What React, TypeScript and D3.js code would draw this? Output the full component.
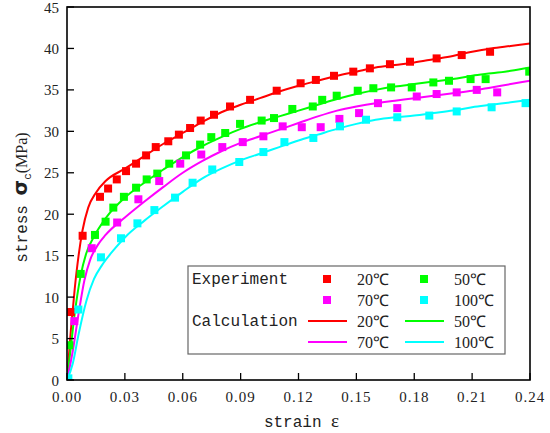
import * as d3 from 'd3'

// experimental points [strain, stress MPa]
const EXP_20: [number, number][] = [
  [0.002, 8.2], [0.0081, 17.4], [0.0171, 22.1], [0.0213, 23.1], [0.0258, 24.2], [0.0306, 25.2],
  [0.0358, 26.1], [0.041, 27.1], [0.046, 28.1], [0.0525, 28.8], [0.058, 29.6], [0.0638, 30.4],
  [0.0693, 31.3], [0.0762, 32.0], [0.0845, 33.0], [0.0949, 33.8], [0.1087, 34.9], [0.1211, 35.8],
  [0.129, 36.2], [0.1384, 36.7], [0.1484, 37.2], [0.157, 37.6], [0.1674, 38.1], [0.1778, 38.4],
  [0.1916, 38.8], [0.2046, 39.2], [0.2193, 39.6],
]
const EXP_50: [number, number][] = [
  [0.0012, 4.2], [0.0071, 12.8], [0.0145, 17.5], [0.02, 19.1], [0.024, 20.8], [0.0295, 22.1],
  [0.0358, 23.2], [0.0413, 24.2], [0.0468, 24.9], [0.053, 26.1], [0.0617, 27.1], [0.069, 28.4],
  [0.0748, 29.3], [0.082, 29.8], [0.0897, 30.9], [0.1009, 31.3], [0.1073, 31.6], [0.1168, 32.7],
  [0.1274, 33.0], [0.1323, 33.8], [0.1398, 34.3], [0.1507, 34.9], [0.1588, 35.2], [0.168, 35.3],
  [0.1787, 35.3], [0.1899, 35.9], [0.198, 36.1], [0.2092, 36.3], [0.217, 36.3], [0.2396, 37.2],
]
const EXP_70: [number, number][] = [
  [0.0038, 7.1], [0.0128, 15.9], [0.026, 19.0], [0.037, 21.8], [0.0478, 24.0], [0.0587, 26.1],
  [0.0696, 27.2], [0.0805, 28.1], [0.0911, 28.7], [0.1018, 29.4], [0.1118, 30.6], [0.1217, 30.5],
  [0.1315, 30.5], [0.1412, 31.5], [0.1514, 32.2], [0.1612, 33.4], [0.1712, 32.8], [0.1813, 34.2],
  [0.1916, 34.5], [0.202, 34.7], [0.2124, 35.0], [0.223, 34.7],
]
const EXP_100: [number, number][] = [
  [0.0007, 0.2], [0.0059, 8.5], [0.0176, 14.8], [0.028, 17.1], [0.0365, 18.9], [0.0453, 20.5],
  [0.056, 22.0], [0.0651, 23.8], [0.0753, 25.4], [0.0893, 26.3], [0.1018, 27.5], [0.1127, 28.7],
  [0.1277, 29.2], [0.1415, 30.6], [0.155, 31.4], [0.1712, 31.7], [0.1878, 31.9], [0.202, 32.4],
  [0.2201, 32.9], [0.2377, 33.4],
]

// calculated curves [strain, stress MPa]
const CALC_20: [number, number][] = [
  [0, 0], [0.002, 6], [0.004, 11], [0.006, 15], [0.008, 18], [0.011, 20.8], [0.015, 22.6],
  [0.02, 24.0], [0.03, 25.5], [0.04, 27.0], [0.05, 28.5], [0.06, 29.8], [0.07, 31.1], [0.08, 32.3],
  [0.09, 33.2], [0.1, 34.0], [0.11, 34.8], [0.12, 35.5], [0.13, 36.1], [0.14, 36.7], [0.15, 37.2],
  [0.16, 37.7], [0.17, 38.0], [0.18, 38.3], [0.19, 38.7], [0.2, 39.1], [0.21, 39.6], [0.22, 40.0],
  [0.23, 40.3], [0.24, 40.6],
]
const CALC_50: [number, number][] = [
  [0, 0], [0.002, 4], [0.004, 8], [0.007, 12.5], [0.01, 15.3], [0.014, 17.3], [0.02, 19.5],
  [0.03, 22.0], [0.04, 23.8], [0.05, 25.4], [0.06, 26.9], [0.07, 28.2], [0.08, 29.3], [0.09, 30.3],
  [0.1, 31.1], [0.11, 31.8], [0.12, 32.5], [0.13, 33.2], [0.14, 33.9], [0.15, 34.5], [0.16, 35.0],
  [0.17, 35.4], [0.18, 35.7], [0.19, 36.0], [0.2, 36.3], [0.21, 36.7], [0.22, 37.0], [0.23, 37.3],
  [0.24, 37.7],
]
const CALC_70: [number, number][] = [
  [0, 0], [0.003, 3.5], [0.006, 8], [0.009, 12], [0.012, 14.5], [0.016, 16.3], [0.02, 17.5],
  [0.03, 19.6], [0.04, 21.5], [0.05, 23.3], [0.06, 25.0], [0.07, 26.4], [0.08, 27.6], [0.09, 28.6],
  [0.1, 29.4], [0.11, 30.2], [0.12, 31.0], [0.13, 31.8], [0.14, 32.5], [0.15, 33.0], [0.16, 33.4],
  [0.17, 33.7], [0.18, 34.0], [0.19, 34.3], [0.2, 34.6], [0.21, 34.9], [0.22, 35.3], [0.23, 35.7],
  [0.24, 36.1],
]
const CALC_100: [number, number][] = [
  [0, 0], [0.003, 2], [0.006, 5.5], [0.01, 9.5], [0.014, 12.2], [0.018, 13.8], [0.025, 15.9],
  [0.03, 17.2], [0.04, 19.2], [0.05, 21.0], [0.06, 22.7], [0.07, 24.3], [0.08, 25.5], [0.09, 26.5],
  [0.1, 27.3], [0.11, 28.1], [0.12, 28.9], [0.13, 29.6], [0.14, 30.3], [0.15, 30.9], [0.16, 31.4],
  [0.17, 31.7], [0.18, 31.9], [0.19, 32.2], [0.2, 32.5], [0.21, 32.9], [0.22, 33.2], [0.23, 33.5],
  [0.24, 33.8],
]

const TEMPS = ['20℃', '50℃', '70℃', '100℃']
const COLORS = ['#ff0000', '#00ff00', '#ff00ff', '#00ffff']
const EXP = [EXP_20, EXP_50, EXP_70, EXP_100]
const CALC = [CALC_20, CALC_50, CALC_70, CALC_100]

const X_TICKS = [0, 0.03, 0.06, 0.09, 0.12, 0.15, 0.18, 0.21, 0.24]
const Y_TICKS = [0, 5, 10, 15, 20, 25, 30, 35, 40, 45]

const W = 550
const H = 433
const M = { left: 67, right: 20, top: 7, bottom: 53 }

const MONO = '"Liberation Mono", monospace'
const SERIF = '"Liberation Serif", serif'

export default function App() {
  const x = d3.scaleLinear().domain([0, 0.24]).range([M.left, W - M.right])
  const y = d3.scaleLinear().domain([0, 45]).range([H - M.bottom, M.top])
  const line = d3.line<[number, number]>()
    .x(d => x(d[0])).y(d => y(d[1]))
    .curve(d3.curveMonotoneX)

  const x0 = x.range()[0], x1 = x.range()[1]
  const yb = y.range()[0], yt = y.range()[1]
  const sq = 8

  // legend layout
  const lg = { x: 188, y: 266, w: 317, h: 88 }
  const rows = [279, 300, 321, 342]
  const cols = [{ mark: 327, text: 357 }, { mark: 424, text: 454 }]

  return (
    <div style={{ position: 'absolute', left: 0, top: 0 }}>
      <svg width={W} height={H} style={{ display: 'block', background: '#fff' }}>
        <defs>
          <clipPath id="plot">
            <rect x={x0} y={yt} width={x1 - x0} height={yb - yt} />
          </clipPath>
        </defs>

        {/* curves */}
        <g clipPath="url(#plot)">
          {CALC.map((c, i) => (
            <path key={i} d={line(c) ?? ''} fill="none" stroke={COLORS[i]} strokeWidth={2} />
          ))}
          {EXP.map((s, i) => (
            <g key={i} fill={COLORS[i]}>
              {s.map((d, j) => (
                <rect key={j} x={x(d[0]) - sq / 2} y={y(d[1]) - sq / 2} width={sq} height={sq} />
              ))}
            </g>
          ))}
        </g>

        {/* frame */}
        <rect x={x0} y={yt} width={x1 - x0} height={yb - yt} fill="none" stroke="#000" strokeWidth={1.6} />

        {/* x axis */}
        {X_TICKS.map(t => (
          <g key={t}>
            <line x1={x(t)} x2={x(t)} y1={yb} y2={yb - 7} stroke="#000" strokeWidth={1.3} />
            <text x={x(t)} y={yb + 22} textAnchor="middle" fontFamily={SERIF} fontSize={15} fill="#222"
              letterSpacing={1}>
              {t.toFixed(2)}
            </text>
          </g>
        ))}
        {/* y axis */}
        {Y_TICKS.map(t => (
          <g key={t}>
            <line x1={x0} x2={x0 + 7} y1={y(t)} y2={y(t)} stroke="#000" strokeWidth={1.3} />
            <text x={x0 - 8} y={y(t) + 5.5} textAnchor="end" fontFamily={SERIF} fontSize={15} fill="#222">
              {t}
            </text>
          </g>
        ))}

        {/* axis titles */}
        <text x={(x0 + x1) / 2 + 3} y={427} textAnchor="middle" fontFamily={MONO} fontSize={16} fill="#222">
          strain <tspan fontFamily={SERIF} fontSize={19}>ε</tspan>
        </text>
        <text transform={`translate(27,${(yb + yt) / 2 + 4}) rotate(-90)`} textAnchor="middle"
          fontFamily={MONO} fontSize={16} fill="#222">
          stress <tspan fontFamily='"DejaVu Sans", sans-serif' fontWeight="bold" fontSize={20}>σ</tspan>
          <tspan fontSize={11} dy={4}>c</tspan>
          <tspan dy={-4} fontFamily={SERIF} fontSize={16}>(MPa)</tspan>
        </text>

        {/* legend */}
        <rect x={lg.x} y={lg.y} width={lg.w} height={lg.h} fill="#fff" stroke="#666" strokeWidth={1.2} />
        <text x={192} y={rows[0] + 5} fontFamily={MONO} fontSize={16} fill="#222">Experiment</text>
        <text x={192} y={rows[2] + 5} fontFamily={MONO} fontSize={16} fill="#222">Calculation</text>
        {TEMPS.map((t, i) => {
          const col = cols[i % 2]
          const rExp = rows[Math.floor(i / 2)]
          const rCalc = rows[2 + Math.floor(i / 2)]
          return (
            <g key={t}>
              <rect x={col.mark - sq / 2} y={rExp - sq / 2} width={sq} height={sq} fill={COLORS[i]} />
              <text x={col.text} y={rExp + 6} fontFamily={SERIF} fontSize={16} fill="#222">{t}</text>
              <line x1={col.mark - 19} x2={col.mark + 20} y1={rCalc} y2={rCalc} stroke={COLORS[i]} strokeWidth={2} />
              <text x={col.text} y={rCalc + 6} fontFamily={SERIF} fontSize={16} fill="#222">{t}</text>
            </g>
          )
        })}
      </svg>
    </div>
  )
}
